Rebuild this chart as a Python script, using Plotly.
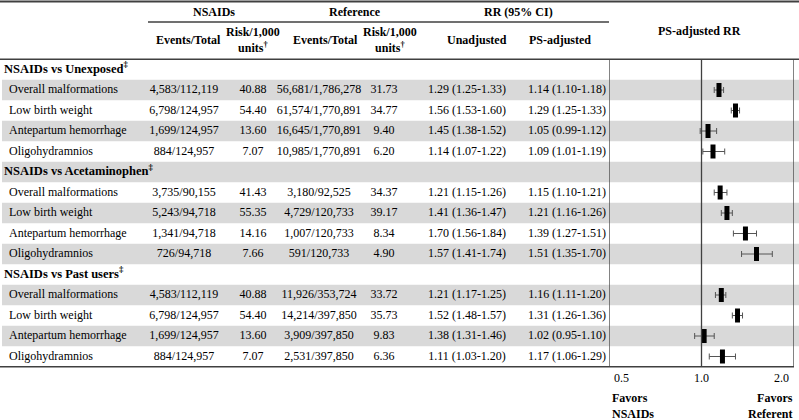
import math

import plotly.graph_objects as go

# --- data -----------------------------------------------------------------
groups = ["NSAIDs vs Unexposed", "NSAIDs vs Acetaminophen", "NSAIDs vs Past users"]
outcomes = ["Overall malformations", "Low birth weight", "Antepartum hemorrhage", "Oligohydramnios"]

nsaid_events = [4583, 6798, 1699, 884, 3735, 5243, 1341, 726, 4583, 6798, 1699, 884]
nsaid_total = [112119, 124957, 124957, 124957, 90155, 94718, 94718, 94718, 112119, 124957, 124957, 124957]
nsaid_risk = [40.88, 54.40, 13.60, 7.07, 41.43, 55.35, 14.16, 7.66, 40.88, 54.40, 13.60, 7.07]
ref_events = [56681, 61574, 16645, 10985, 3180, 4729, 1007, 591, 11926, 14214, 3909, 2531]
ref_total = [1786278, 1770891, 1770891, 1770891, 92525, 120733, 120733, 120733, 353724, 397850, 397850, 397850]
ref_risk = [31.73, 34.77, 9.40, 6.20, 34.37, 39.17, 8.34, 4.90, 33.72, 35.73, 9.83, 6.36]
rr_unadj = [1.29, 1.56, 1.45, 1.14, 1.21, 1.41, 1.70, 1.57, 1.21, 1.52, 1.38, 1.11]
rr_unadj_lo = [1.25, 1.53, 1.38, 1.07, 1.15, 1.36, 1.56, 1.41, 1.17, 1.48, 1.31, 1.03]
rr_unadj_hi = [1.33, 1.60, 1.52, 1.22, 1.26, 1.47, 1.84, 1.74, 1.25, 1.57, 1.46, 1.20]
rr_ps = [1.14, 1.29, 1.05, 1.09, 1.15, 1.21, 1.39, 1.51, 1.16, 1.31, 1.02, 1.17]
rr_ps_lo = [1.10, 1.25, 0.99, 1.01, 1.10, 1.16, 1.27, 1.35, 1.11, 1.26, 0.95, 1.06]
rr_ps_hi = [1.18, 1.33, 1.12, 1.19, 1.21, 1.26, 1.51, 1.70, 1.20, 1.36, 1.10, 1.29]
axis_ticks = [0.5, 1.0, 2.0]

# --- layout helpers -------------------------------------------------------
W, H = 799, 420
ROW0, ROWH = 69.5, 20.5          # pixel centre of first row, row height
FX0, FX1 = 609, 794              # forest panel left/right (pixels)
FONT = "Liberation Serif"
FS = 12


def row_of(px):
    return (px - ROW0) / ROWH


def py(px):
    return 1 - px / H


def forest_px(v):
    lo, hi = math.log10(axis_ticks[0]), math.log10(axis_ticks[-1])
    return FX0 + (math.log10(v) - lo) / (hi - lo) * (FX1 - FX0)


n_rows = len(groups) * (len(outcomes) + 1)
group_rows = [g * (len(outcomes) + 1) for g in range(len(groups))]
data_rows = [g * (len(outcomes) + 1) + 1 + k for g in range(len(groups)) for k in range(len(outcomes))]
labels = [o for _ in groups for o in outcomes]

fmt_ratio = lambda a, b: f"{a:,}/{b:,}"
fmt_ci = lambda r, lo, hi: f"{r:.2f} ({lo:.2f}-{hi:.2f})"

# column centres (pixels)
cols = {
    "nev": 184, "nrisk": 253, "rev": 319, "rrisk": 384, "unadj": 467, "ps": 567,
}

fig = go.Figure()

txt = dict(family=FONT, size=FS, color="black")


def add_text(x, y, text, pos="middle center", bold=False, size=FS):
    fig.add_trace(go.Scatter(
        x=x, y=y, text=[f"<b>{t}</b>" if bold else t for t in text],
        mode="text", textposition=pos, textfont=dict(txt, size=size),
        xaxis="x2", yaxis="y2", hoverinfo="skip", showlegend=False, cliponaxis=False,
    ))


add_text([4] * len(groups), group_rows, [f"{g}<sup>‡</sup>" for g in groups], "middle right",
         bold=True, size=12.5)
add_text([9] * len(labels), data_rows, labels, "middle right")
add_text([cols["nev"]] * 12, data_rows, [fmt_ratio(a, b) for a, b in zip(nsaid_events, nsaid_total)])
add_text([cols["nrisk"]] * 12, data_rows, [f"{v:.2f}" for v in nsaid_risk])
add_text([cols["rev"]] * 12, data_rows, [fmt_ratio(a, b) for a, b in zip(ref_events, ref_total)])
add_text([cols["rrisk"]] * 12, data_rows, [f"{v:.2f}" for v in ref_risk])
add_text([cols["unadj"]] * 12, data_rows,
         [fmt_ci(*t) for t in zip(rr_unadj, rr_unadj_lo, rr_unadj_hi)])
add_text([cols["ps"]] * 12, data_rows,
         [fmt_ci(*t) for t in zip(rr_ps, rr_ps_lo, rr_ps_hi)])

# forest plot
fig.add_trace(go.Scatter(
    x=rr_ps, y=data_rows, mode="markers",
    marker=dict(symbol="line-ns", size=10, line=dict(width=5, color="black")),
    error_x=dict(type="data", symmetric=False,
                 array=[h - r for r, h in zip(rr_ps, rr_ps_hi)],
                 arrayminus=[r - l for r, l in zip(rr_ps, rr_ps_lo)],
                 color="#555555", thickness=1, width=3),
    xaxis="x", yaxis="y", hoverinfo="skip", showlegend=False,
))

top_px = ROW0 - ROWH / 2
bot_px = ROW0 + (n_rows - 0.5) * ROWH

shapes = []
for i in range(n_rows):
    if i % 2 == 1:
        shapes.append(dict(type="rect", xref="paper", yref="y2", x0=2 / W, x1=1,
                           y0=i - 0.5, y1=i + 0.5, fillcolor="#d9d9d9",
                           line=dict(width=0), layer="below"))
line = dict(color="#404040", width=1.3)
shapes += [
    dict(type="line", xref="paper", yref="paper", x0=0, x1=1, y0=py(1.5), y1=py(1.5), line=dict(color="#404040", width=2)),
    dict(type="line", xref="paper", yref="paper", x0=148 / W, x1=FX0 / W, y0=py(22), y1=py(22), line=line),
    dict(type="line", xref="paper", yref="paper", x0=0, x1=1, y0=py(top_px), y1=py(top_px), line=line),
    dict(type="line", xref="paper", yref="paper", x0=0, x1=FX1 / W, y0=py(bot_px), y1=py(bot_px), line=line),
]
for t in axis_ticks:
    shapes.append(dict(type="line", xref="x", yref="paper", x0=t, x1=t,
                       y0=py(bot_px), y1=py(top_px), line=line))

ann = []


def head(x, px, text, bold=True, xanchor="center", align="center"):
    ann.append(dict(xref="paper", yref="paper", x=x / W, y=py(px), text=f"<b>{text}</b>" if bold else text,
                    showarrow=False, xanchor=xanchor, yanchor="middle", align=align, font=txt))


head(214, 12, "NSAIDs")
head(355, 12, "Reference")
head(518, 12, "RR (95% CI)")
head(188, 40, "Events/Total")
head(253, 40, "Risk/1,000<br>units<sup>†</sup>")
head(325, 40, "Events/Total")
head(390, 40, "Risk/1,000<br>units<sup>†</sup>")
head(477, 40, "Unadjusted")
head(560, 40, "PS-adjusted")
head(699, 31, "PS-adjusted RR")
head(610, 406, "Favors<br>NSAIDs", xanchor="left", align="left")
head(795, 406, "Favors<br>Referent", xanchor="right", align="right")

# tick labels under the forest panel
for t, xa, dx in zip(axis_ticks, ["left", "center", "right"], [3, 0, -3]):
    head(forest_px(t) + dx, 378, f"{t:.1f}", bold=False, xanchor=xa)

yrange = [row_of(H), row_of(0)]
fig.update_layout(
    width=W, height=H, margin=dict(l=0, r=0, t=0, b=0),
    plot_bgcolor="rgba(0,0,0,0)", paper_bgcolor="white",
    hovermode=False, dragmode=False,
    xaxis=dict(type="log", domain=[FX0 / W, FX1 / W], anchor="y",
               range=[math.log10(axis_ticks[0]), math.log10(axis_ticks[-1])],
               visible=False, showline=False, zeroline=False, showgrid=False),
    yaxis=dict(domain=[0, 1], range=yrange, anchor="x",
               visible=False, showline=False, zeroline=False, showgrid=False),
    xaxis2=dict(domain=[0, 1], range=[0, W], anchor="y2",
                visible=False, showline=False, zeroline=False, showgrid=False),
    yaxis2=dict(domain=[0, 1], range=yrange, anchor="x2",
                visible=False, showline=False, zeroline=False, showgrid=False),
    shapes=shapes, annotations=ann,
)

fig.write_html("out.html", config={"displayModeBar": False, "staticPlot": True},
               post_script="document.body.style.margin='0';")
